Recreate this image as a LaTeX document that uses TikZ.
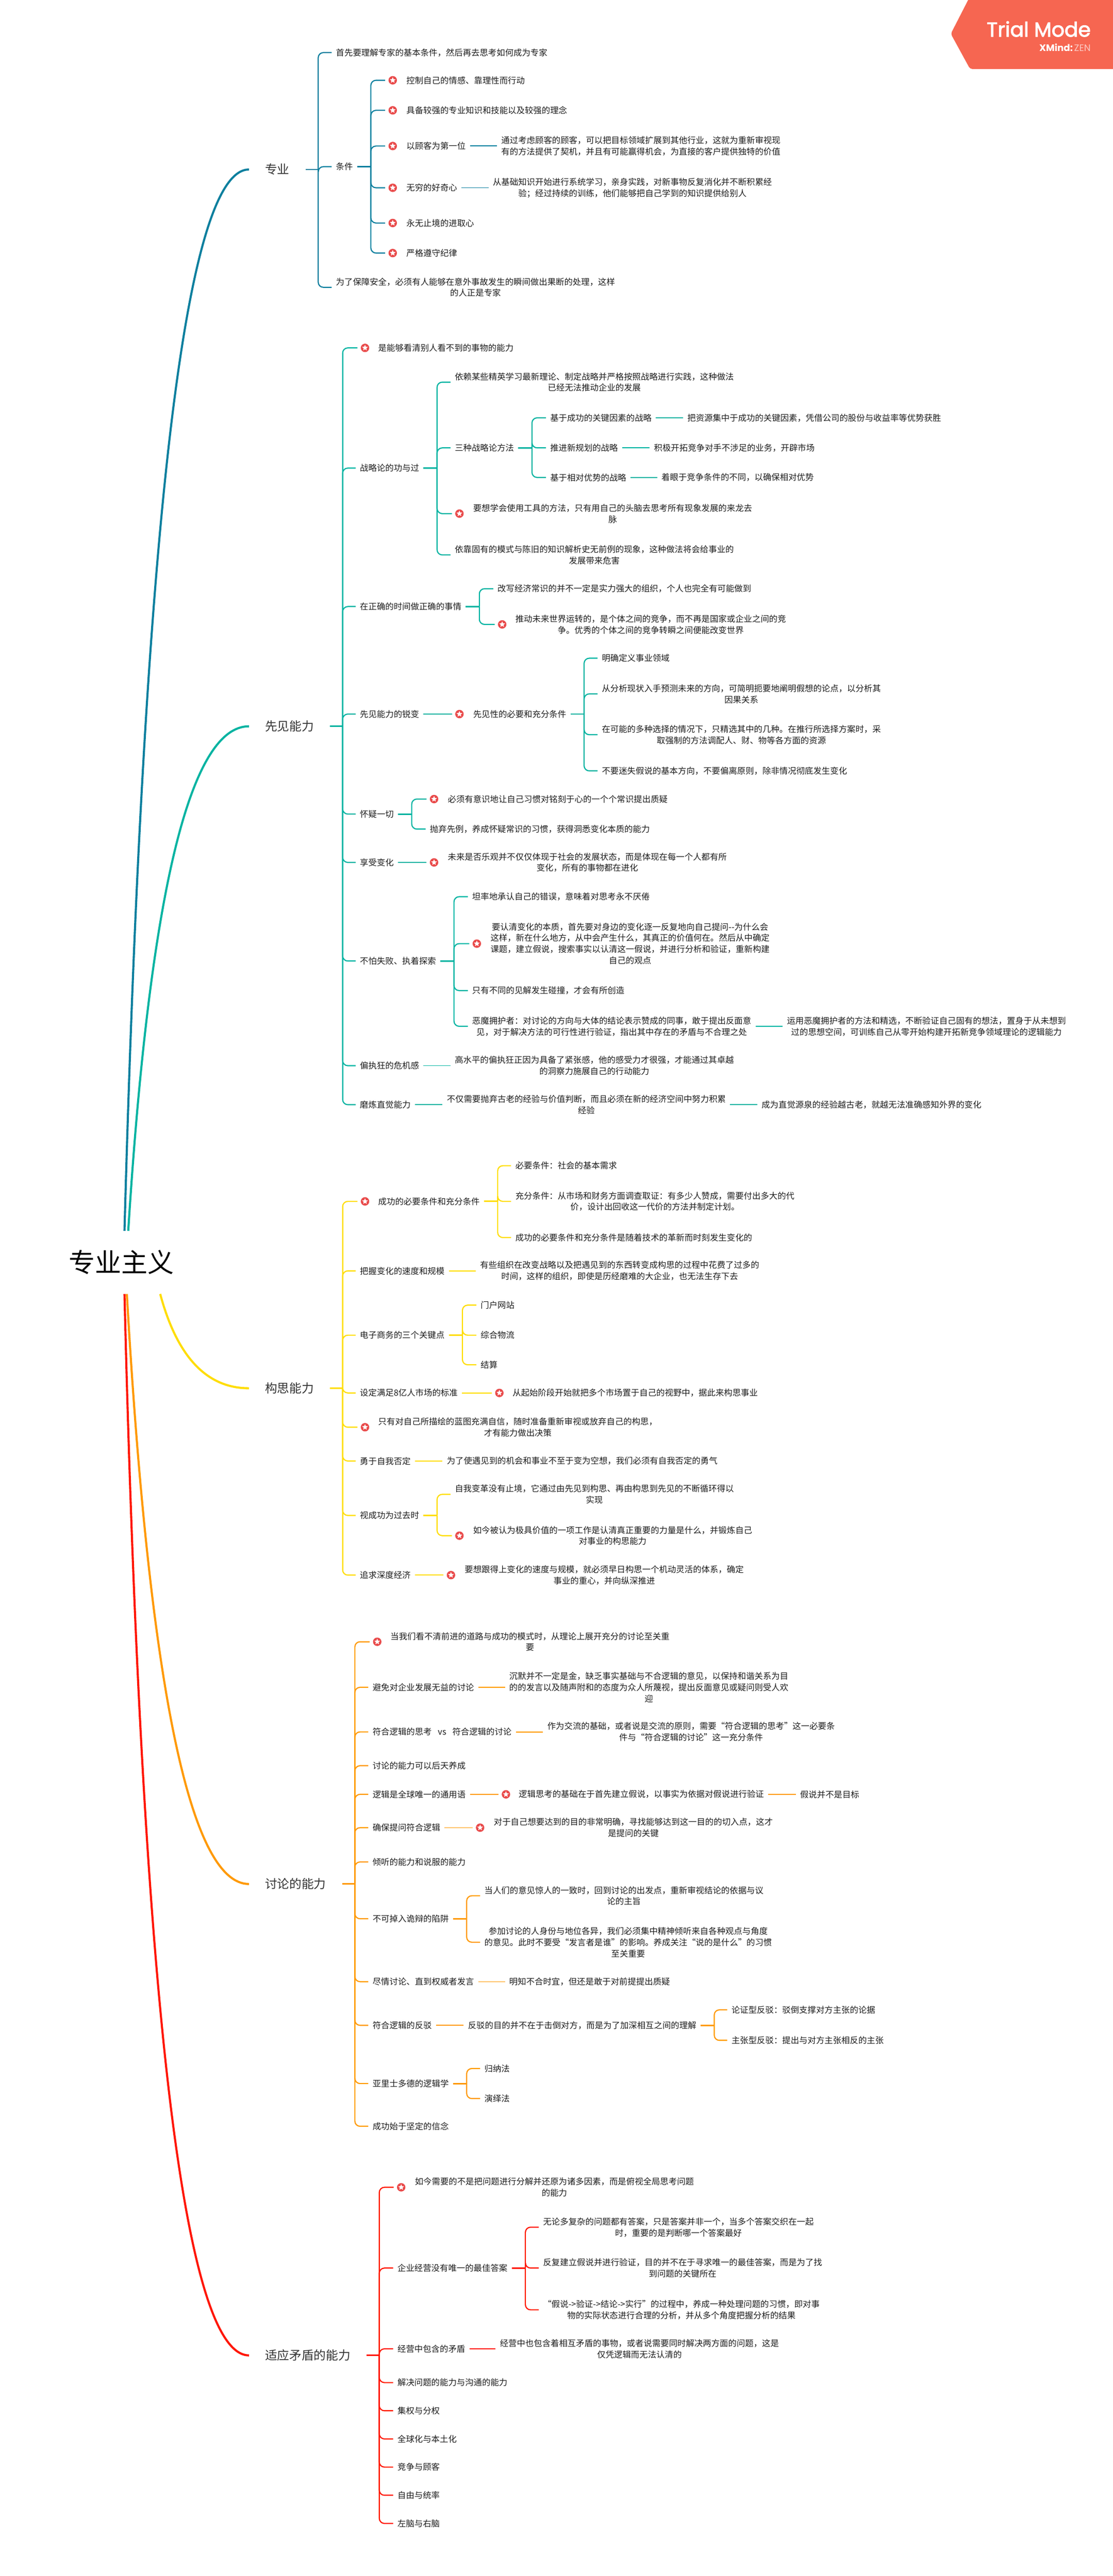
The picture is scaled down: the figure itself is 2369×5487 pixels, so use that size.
\documentclass[tikz,border=0pt]{standalone}
\usepackage{fontspec}
\newfontfamily\cjkfont{Noto Sans CJK SC}
\newfontfamily\badgefont{Poppins}
\newfontfamily\trialfont{Poppins}[FakeBold=2.5]
\definecolor{hueblue}{HTML}{0B7F9E}
\definecolor{hueteal}{HTML}{00B3A1}
\definecolor{hueyellow}{HTML}{FFDD00}
\definecolor{hueorange}{HTML}{FF9900}
\definecolor{huered}{HTML}{FF1500}
\definecolor{iconred}{HTML}{E94B4B}
\definecolor{badgered}{HTML}{F66651}
\definecolor{inkleaf}{HTML}{1C1C1C}
\definecolor{inktopic}{HTML}{333333}
\tikzset{
	leaf/.style={anchor=west, inner xsep=9, inner ysep=2, align=center, text=inkleaf, font=\cjkfont\fontsize{18}{24}\selectfont},
	topic/.style={anchor=west, inner xsep=34, inner ysep=4, text=inktopic, font=\cjkfont\fontsize{26}{32}\selectfont},
	rootnode/.style={inner sep=0, minimum height=134, text=black, font=\cjkfont\fontsize{56}{64}\selectfont},
	icon/.style={circle, fill=iconred, minimum size=18, inner sep=0, outer sep=7, path picture={\node[star, star points=5, star point ratio=2.2, fill=white, minimum size=13, inner sep=0] at (path picture bounding box.center) {};}},
	mainline/.style={line width=4.5},
	stub/.style={line width=3.2},
	twig/.style={line width=2.4, rounded corners=11},
	link/.style={line width=2},
}
\newcommand{\forkto}[4][29]{%
	\draw[stub,#2] (#3.east) -- ++(#1,0) coordinate (trunk);
	\foreach \kid in {#4} \draw[twig,#2] (trunk) |- (\kid.west);
}
\newcommand{\linkto}[3]{\draw[link,#1] (#2.east) -- (#3.west);}
\usetikzlibrary{shapes.geometric}

\begin{document}
\begin{tikzpicture}[x=1pt,y=-1pt]
	\useasboundingbox (0,0) rectangle (2369,5487);
	\fill[badgered,rounded corners=5] (2065,-8) -- (2024,72) -- (2065,147) -- (2377,147) -- (2377,-8) -- cycle;
	\node[anchor=base east,inner sep=0,text=white,font=\trialfont\fontsize{43}{50}\selectfont] (trial) at (2322,78) {Trial Mode};
	\node[anchor=base east,inner sep=0,text=white,font=\badgefont\fontsize{20}{24}\selectfont] (zen) at (2322,109) {\textbf{XMind:}\hspace{3pt}\textcolor{white!65!badgered}{ZEN}};

	\node[rootnode] (root) at (258,2689) {专业主义};

	\node[topic] (zy) at (530,361) {专业};
	\draw[mainline,hueblue] ([xshift=7]root.north) .. controls (306,1115) and (394,361) .. (zy.west);
	\node[leaf] (zy1) at (706,112) {首先要理解专家的基本条件，然后再去思考如何成为专家};
	\node[leaf] (zy2) at (706,355) {条件};
	\node[leaf] (zy3) at (706,612) {为了保障安全，必须有人能够在意外事故发生的瞬间做出果断的处理，这样\\的人正是专家};
	\forkto[27]{hueblue}{zy}{zy1,zy2,zy3}
	\node[icon] (zy21) at (836,171) {};
	\node[leaf] (zy21t) at (856,171) {控制自己的情感、靠理性而行动};
	\node[icon] (zy22) at (836,235) {};
	\node[leaf] (zy22t) at (856,235) {具备较强的专业知识和技能以及较强的理念};
	\node[icon] (zy23) at (836,311) {};
	\node[leaf] (zy23t) at (856,311) {以顾客为第一位};
	\node[icon] (zy24) at (836,400) {};
	\node[leaf] (zy24t) at (856,400) {无穷的好奇心};
	\node[icon] (zy25) at (836,475) {};
	\node[leaf] (zy25t) at (856,475) {永无止境的进取心};
	\node[icon] (zy26) at (836,539) {};
	\node[leaf] (zy26t) at (856,539) {严格遵守纪律};
	\forkto{hueblue}{zy2}{zy21,zy22,zy23,zy24,zy25,zy26}
	\node[leaf] (zy231) at (1058,311) {通过考虑顾客的顾客，可以把目标领域扩展到其他行业，这就为重新审视现\\有的方法提供了契机，并且有可能赢得机会，为直接的客户提供独特的价值};
	\linkto{hueblue}{zy23t}{zy231}
	\node[leaf] (zy241) at (1040,400) {从基础知识开始进行系统学习，亲身实践，对新事物反复消化并不断积累经\\验；经过持续的训练，他们能够把自己学到的知识提供给别人};
	\linkto{hueblue}{zy24t}{zy241}

	\node[topic] (xj) at (530,1547) {先见能力};
	\draw[mainline,hueteal] ([xshift=15]root.north) .. controls (318,1905) and (404,1547) .. (xj.west);
	\node[icon] (xj1) at (777,741) {};
	\node[leaf] (xj1t) at (796,741) {是能够看清别人看不到的事物的能力};
	\node[leaf] (xj2) at (757,997) {战略论的功与过};
	\node[leaf] (xj3) at (757,1292) {在正确的时间做正确的事情};
	\node[leaf] (xj4) at (757,1521) {先见能力的锐变};
	\node[leaf] (xj5) at (757,1734) {怀疑一切};
	\node[leaf] (xj6) at (757,1837) {享受变化};
	\node[leaf] (xj7) at (757,2047) {不怕失败、执着探索};
	\node[leaf] (xj8) at (757,2270) {偏执狂的危机感};
	\node[leaf] (xj9) at (757,2353) {磨炼直觉能力};
	\forkto[27]{hueteal}{xj}{xj1,xj2,xj3,xj4,xj5,xj6,xj7,xj8,xj9}
	\node[leaf] (xj21) at (959,814) {依赖某些精英学习最新理论、制定战略并严格按照战略进行实践，这种做法\\已经无法推动企业的发展};
	\node[leaf] (xj22) at (959,954) {三种战略论方法};
	\node[icon] (xj23) at (978,1094) {};
	\node[leaf] (xj23t) at (998,1094) {要想学会使用工具的方法，只有用自己的头脑去思考所有现象发展的来龙去\\脉};
	\node[leaf] (xj24) at (959,1182) {依靠固有的模式与陈旧的知识解析史无前例的现象，这种做法将会给事业的\\发展带来危害};
	\forkto{hueteal}{xj2}{xj21,xj22,xj23,xj24}
	\node[leaf] (xj221) at (1162,890) {基于成功的关键因素的战略};
	\node[leaf] (xj222) at (1162,954) {推进新规划的战略};
	\node[leaf] (xj223) at (1162,1017) {基于相对优势的战略};
	\forkto{hueteal}{xj22}{xj221,xj222,xj223}
	\node[leaf] (xj2211) at (1454,890) {把资源集中于成功的关键因素，凭借公司的股份与收益率等优势获胜};
	\linkto{hueteal}{xj221}{xj2211}
	\node[leaf] (xj2221) at (1383,954) {积极开拓竞争对手不涉足的业务，开辟市场};
	\linkto{hueteal}{xj222}{xj2221}
	\node[leaf] (xj2231) at (1399,1017) {着眼于竞争条件的不同，以确保相对优势};
	\linkto{hueteal}{xj223}{xj2231}
	\node[leaf] (xj31) at (1050,1254) {改写经济常识的并不一定是实力强大的组织，个人也完全有可能做到};
	\node[icon] (xj32) at (1069,1330) {};
	\node[leaf] (xj32t) at (1088,1330) {推动未来世界运转的，是个体之间的竞争，而不再是国家或企业之间的竞\\争。优秀的个体之间的竞争转瞬之间便能改变世界};
	\forkto{hueteal}{xj3}{xj31,xj32}
	\node[icon] (xj41) at (978,1521) {};
	\node[leaf] (xj41t) at (998,1521) {先见性的必要和充分条件};
	\linkto{hueteal}{xj4}{xj41}
	\node[leaf] (xj411) at (1272,1402) {明确定义事业领域};
	\node[leaf] (xj412) at (1272,1478) {从分析现状入手预测未来的方向，可简明扼要地阐明假想的论点，以分析其\\因果关系};
	\node[leaf] (xj413) at (1272,1565) {在可能的多种选择的情况下，只精选其中的几种。在推行所选择方案时，采\\取强制的方法调配人、财、物等各方面的资源};
	\node[leaf] (xj414) at (1272,1642) {不要迷失假说的基本方向，不要偏离原则，除非情况彻底发生变化};
	\forkto{hueteal}{xj41t}{xj411,xj412,xj413,xj414}
	\node[icon] (xj51) at (924,1702) {};
	\node[leaf] (xj51t) at (944,1702) {必须有意识地让自己习惯对铭刻于心的一个个常识提出质疑};
	\node[leaf] (xj52) at (906,1766) {抛弃先例，养成怀疑常识的习惯，获得洞悉变化本质的能力};
	\forkto{hueteal}{xj5}{xj51,xj52}
	\node[icon] (xj61) at (924,1837) {};
	\node[leaf] (xj61t) at (944,1837) {未来是否乐观并不仅仅体现于社会的发展状态，而是体现在每一个人都有所\\变化，所有的事物都在进化};
	\linkto{hueteal}{xj6}{xj61}
	\node[leaf] (xj71) at (996,1910) {坦率地承认自己的错误，意味着对思考永不厌倦};
	\node[icon] (xj72) at (1015,2010) {};
	\node[leaf] (xj72t) at (1035,2010) {要认清变化的本质，首先要对身边的变化逐一反复地向自己提问--为什么会\\这样，新在什么地方，从中会产生什么，其真正的价值何在。然后从中确定\\课题，建立假说，搜索事实以认清这一假说，并进行分析和验证，重新构建\\自己的观点};
	\node[leaf] (xj73) at (996,2110) {只有不同的见解发生碰撞，才会有所创造};
	\node[leaf] (xj74) at (996,2186) {恶魔拥护者：对讨论的方向与大体的结论表示赞成的同事，敢于提出反面意\\见，对于解决方法的可行性进行验证，指出其中存在的矛盾与不合理之处};
	\forkto{hueteal}{xj7}{xj71,xj72,xj73,xj74}
	\node[leaf] (xj741) at (1666,2186) {运用恶魔拥护者的方法和精选，不断验证自己固有的想法，置身于从未想到\\过的思想空间，可训练自己从零开始构建开拓新竞争领域理论的逻辑能力};
	\linkto{hueteal}{xj74}{xj741}
	\node[leaf] (xj81) at (959,2270) {高水平的偏执狂正因为具备了紧张感，他的感受力才很强，才能通过其卓越\\的洞察力施展自己的行动能力};
	\linkto{hueteal}{xj8}{xj81}
	\node[leaf] (xj91) at (942,2353) {不仅需要抛弃古老的经验与价值判断，而且必须在新的经济空间中努力积累\\经验};
	\linkto{hueteal}{xj9}{xj91}
	\node[leaf] (xj92) at (1612,2353) {成为直觉源泉的经验越古老，就越无法准确感知外界的变化};
	\linkto{hueteal}{xj91}{xj92}

	\node[topic] (gs) at (530,2957) {构思能力};
	\draw[mainline,hueyellow] ([xshift=83]root.south) .. controls (377,2890) and (440,2957) .. (gs.west);
	\node[icon] (gs1) at (777,2559) {};
	\node[leaf] (gs1t) at (796,2559) {成功的必要条件和充分条件};
	\node[leaf] (gs2) at (757,2707) {把握变化的速度和规模};
	\node[leaf] (gs3) at (757,2844) {电子商务的三个关键点};
	\node[leaf] (gs4) at (757,2967) {设定满足8亿人市场的标准};
	\node[icon] (gs5) at (777,3040) {};
	\node[leaf] (gs5t) at (796,3040) {只有对自己所描绘的蓝图充满自信，随时准备重新审视或放弃自己的构思，\\才有能力做出决策};
	\node[leaf] (gs6) at (757,3112) {勇于自我否定};
	\node[leaf] (gs7) at (757,3228) {视成功为过去时};
	\node[leaf] (gs8) at (757,3355) {追求深度经济};
	\forkto[27]{hueyellow}{gs}{gs1,gs2,gs3,gs4,gs5,gs6,gs7,gs8}
	\node[leaf] (gs11) at (1088,2483) {必要条件：社会的基本需求};
	\node[leaf] (gs12) at (1088,2559) {充分条件：从市场和财务方面调查取证：有多少人赞成，需要付出多大的代\\价，设计出回收这一代价的方法并制定计划。};
	\node[leaf] (gs13) at (1088,2636) {成功的必要条件和充分条件是随着技术的革新而时刻发生变化的};
	\forkto{hueyellow}{gs1t}{gs11,gs12,gs13}
	\node[leaf] (gs21) at (1013,2707) {有些组织在改变战略以及把遇见到的东西转变成构思的过程中花费了过多的\\时间，这样的组织，即使是历经磨难的大企业，也无法生存下去};
	\linkto{hueyellow}{gs2}{gs21}
	\node[leaf] (gs31) at (1014,2780) {门户网站};
	\node[leaf] (gs32) at (1014,2844) {综合物流};
	\node[leaf] (gs33) at (1014,2907) {结算};
	\forkto{hueyellow}{gs3}{gs31,gs32,gs33}
	\node[icon] (gs41) at (1063,2967) {};
	\node[leaf] (gs41t) at (1082,2967) {从起始阶段开始就把多个市场置于自己的视野中，据此来构思事业};
	\linkto{hueyellow}{gs4}{gs41}
	\node[leaf] (gs61) at (942,3112) {为了使遇见到的机会和事业不至于变为空想，我们必须有自我否定的勇气};
	\linkto{hueyellow}{gs6}{gs61}
	\node[leaf] (gs71) at (959,3183) {自我变革没有止境，它通过由先见到构思、再由构思到先见的不断循环得以\\实现};
	\node[icon] (gs72) at (978,3271) {};
	\node[leaf] (gs72t) at (998,3271) {如今被认为极具价值的一项工作是认清真正重要的力量是什么，并锻炼自己\\对事业的构思能力};
	\forkto{hueyellow}{gs7}{gs71,gs72}
	\node[icon] (gs81) at (960,3355) {};
	\node[leaf] (gs81t) at (980,3355) {要想跟得上变化的速度与规模，就必须早日构思一个机动灵活的体系，确定\\事业的重心，并向纵深推进};
	\linkto{hueyellow}{gs8}{gs81}

	\node[topic] (tl) at (530,4013) {讨论的能力};
	\draw[mainline,hueorange] ([xshift=12]root.south) .. controls (318,3594) and (405,4013) .. (tl.west);
	\node[icon] (tl1) at (803,3497) {};
	\node[leaf] (tl1t) at (822,3497) {当我们看不清前进的道路与成功的模式时，从理论上展开充分的讨论至关重\\要};
	\node[leaf] (tl2) at (784,3594) {避免对企业发展无益的讨论};
	\node[leaf] (tl3) at (784,3689) {符合逻辑的思考\hspace{13pt}vs\hspace{13pt}符合逻辑的讨论};
	\node[leaf] (tl4) at (784,3761) {讨论的能力可以后天养成};
	\node[leaf] (tl5) at (784,3822) {逻辑是全球唯一的通用语};
	\node[leaf] (tl6) at (784,3893) {确保提问符合逻辑};
	\node[leaf] (tl7) at (784,3966) {倾听的能力和说服的能力};
	\node[leaf] (tl8) at (784,4087) {不可掉入诡辩的陷阱};
	\node[leaf] (tl9) at (784,4221) {尽情讨论、直到权威者发言};
	\node[leaf] (tl10) at (784,4314) {符合逻辑的反驳};
	\node[leaf] (tl11) at (784,4438) {亚里士多德的逻辑学};
	\node[leaf] (tl12) at (784,4529) {成功始于坚定的信念};
	\forkto[27]{hueorange}{tl}{tl1,tl2,tl3,tl4,tl5,tl6,tl7,tl8,tl9,tl10,tl11,tl12}
	\node[leaf] (tl21) at (1075,3594) {沉默并不一定是金，缺乏事实基础与不合逻辑的意见，以保持和谐关系为目\\的的发言以及随声附和的态度为众人所蔑视，提出反面意见或疑问则受人欢\\迎};
	\linkto{hueorange}{tl2}{tl21}
	\node[leaf] (tl31) at (1156,3689) {作为交流的基础，或者说是交流的原则，需要“符合逻辑的思考”这一必要条\\件与“符合逻辑的讨论”这一充分条件};
	\linkto{hueorange}{tl3}{tl31}
	\node[icon] (tl51) at (1077,3822) {};
	\node[leaf] (tl51t) at (1095,3822) {逻辑思考的基础在于首先建立假说，以事实为依据对假说进行验证};
	\linkto{hueorange}{tl5}{tl51}
	\node[leaf] (tl52) at (1694,3822) {假说并不是目标};
	\linkto{hueorange}{tl51t}{tl52}
	\node[icon] (tl61) at (1022,3893) {};
	\node[leaf] (tl61t) at (1042,3893) {对于自己想要达到的目的非常明确，寻找能够达到这一目的的切入点，这才\\是提问的关键};
	\linkto{hueorange}{tl6}{tl61}
	\node[leaf] (tl81) at (1022,4038) {当人们的意见惊人的一致时，回到讨论的出发点，重新审视结论的依据与议\\论的主旨};
	\node[leaf] (tl82) at (1022,4137) {参加讨论的人身份与地位各异，我们必须集中精神倾听来自各种观点与角度\\的意见。此时不要受“发言者是谁”的影响。养成关注“说的是什么”的习惯\\至关重要};
	\forkto{hueorange}{tl8}{tl81,tl82}
	\node[leaf] (tl91) at (1075,4221) {明知不合时宜，但还是敢于对前提提出质疑};
	\linkto{hueorange}{tl9}{tl91}
	\node[leaf] (tl101) at (987,4314) {反驳的目的并不在于击倒对方，而是为了加深相互之间的理解};
	\linkto{hueorange}{tl10}{tl101}
	\node[leaf] (tl1011) at (1548,4281) {论证型反驳：驳倒支撑对方主张的论据};
	\node[leaf] (tl1012) at (1548,4346) {主张型反驳：提出与对方主张相反的主张};
	\forkto{hueorange}{tl101}{tl1011,tl1012}
	\node[leaf] (tl111) at (1022,4406) {归纳法};
	\node[leaf] (tl112) at (1022,4470) {演绎法};
	\forkto{hueorange}{tl11}{tl111,tl112}

	\node[topic] (sy) at (530,5017) {适应矛盾的能力};
	\draw[mainline,huered] ([xshift=7]root.south) .. controls (302,4263) and (391,5017) .. (sy.west);
	\node[icon] (sy1) at (854,4659) {};
	\node[leaf] (sy1t) at (874,4659) {如今需要的不是把问题进行分解并还原为诸多因素，而是俯视全局思考问题\\的能力};
	\node[leaf] (sy2) at (837,4831) {企业经营没有唯一的最佳答案};
	\node[leaf] (sy3) at (837,5003) {经营中包含的矛盾};
	\node[leaf] (sy4) at (837,5075) {解决问题的能力与沟通的能力};
	\node[leaf] (sy5) at (837,5135) {集权与分权};
	\node[leaf] (sy6) at (837,5195) {全球化与本土化};
	\node[leaf] (sy7) at (837,5255) {竞争与顾客};
	\node[leaf] (sy8) at (837,5315) {自由与统率};
	\node[leaf] (sy9) at (837,5375) {左脑与右脑};
	\forkto[27]{huered}{sy}{sy1,sy2,sy3,sy4,sy5,sy6,sy7,sy8,sy9}
	\node[leaf] (sy21) at (1147,4744) {无论多复杂的问题都有答案，只是答案并非一个，当多个答案交织在一起\\时，重要的是判断哪一个答案最好};
	\node[leaf] (sy22) at (1147,4831) {反复建立假说并进行验证，目的并不在于寻求唯一的最佳答案，而是为了找\\到问题的关键所在};
	\node[leaf] (sy23) at (1147,4920) {“假说->验证->结论->实行”的过程中，养成一种处理问题的习惯，即对事\\物的实际状态进行合理的分析，并从多个角度把握分析的结果};
	\forkto{huered}{sy2}{sy21,sy22,sy23}
	\node[leaf] (sy31) at (1055,5003) {经营中也包含着相互矛盾的事物，或者说需要同时解决两方面的问题，这是\\仅凭逻辑而无法认清的};
	\linkto{huered}{sy3}{sy31}
\end{tikzpicture}
\end{document}
